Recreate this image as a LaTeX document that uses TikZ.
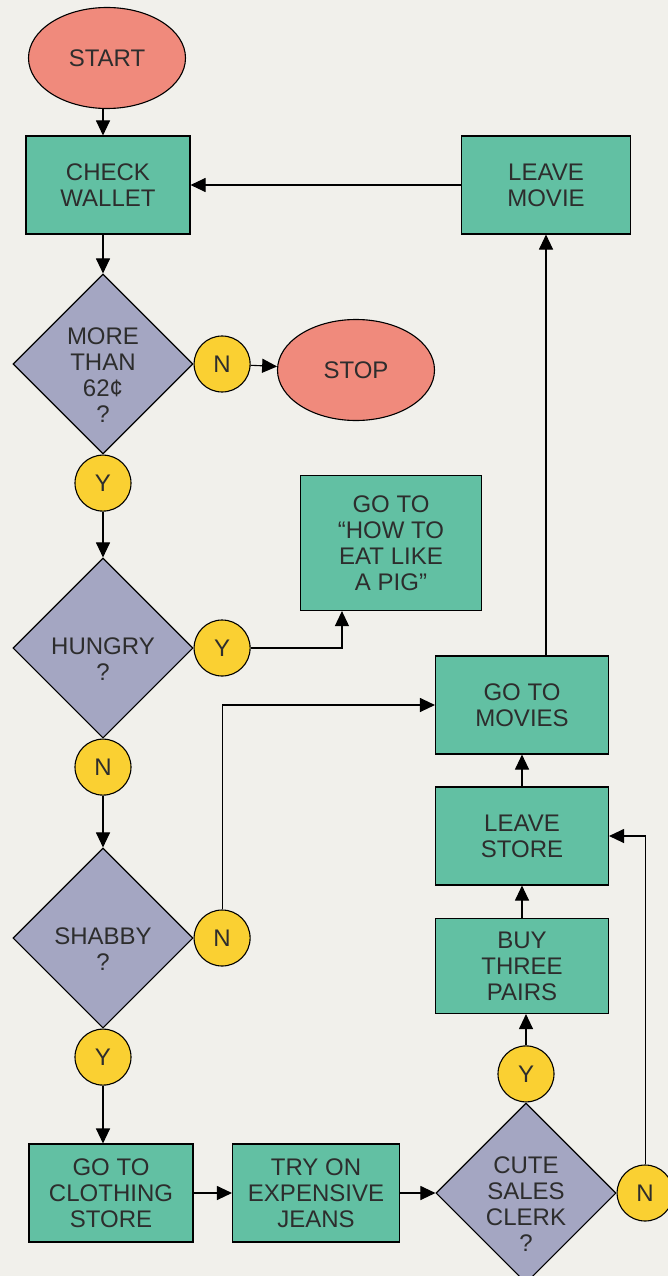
\documentclass[tikz,border=0pt]{standalone}
\usepackage{fontspec}
\setmainfont{Liberation Sans}
\usepackage{tikz}
\usepackage{xcolor}
\usetikzlibrary{calc,shapes.geometric,arrows.meta}

\definecolor{paper}{RGB}{241,240,235}
\definecolor{ink}{RGB}{45,45,45}
\definecolor{mint}{RGB}{98,192,163}
\definecolor{salmon}{RGB}{240,138,124}
\definecolor{lilac}{RGB}{164,166,194}
\definecolor{sun}{RGB}{250,208,50}

\begin{document}
\begin{tikzpicture}[x=1pt,y=-1pt]
        \tikzstyle{every node}=[font=\fontsize{24}{26}\selectfont, text=ink, align=center, line width=1.1pt]
        \tikzstyle{box}=[draw, fill=mint, minimum width=168, minimum height=98]
        \tikzstyle{term}=[draw, ellipse, fill=salmon, minimum width=157, minimum height=101]
        \tikzstyle{ask}=[draw, diamond, fill=lilac, minimum width=180, minimum height=180, inner sep=0pt]
        \tikzstyle{reply}=[draw, circle, fill=sun, minimum size=56, inner sep=0pt]
        \tikzstyle{flow}=[line width=1.1pt, -{Triangle[length=15pt,width=14pt]}]

            \useasboundingbox (0,0) rectangle (668,1276);
            \fill[paper] (0,0) rectangle (668,1276);

            % left column
            \node[term] (start) at (107,58) {START};
            \node[box, minimum width=164] (wallet) at (108,185) {CHECK\\WALLET};
            \node[ask, label={[yshift=-11pt]center:MORE\\THAN\\62¢\\?}] (more) at (103,364) {};
            \node[reply, anchor=west] (no1) at (more.east) {N};
            \node[term] (stop) at (356,370) {STOP};
            \node[reply, anchor=north] (yes1) at (more.south) {Y};

            \node[ask, label={[yshift=-11pt]center:HUNGRY\\?}] (hungry) at (103,648) {};
            \node[reply, anchor=west] (yes2) at (hungry.east) {Y};
            \node[reply, anchor=north] (no2) at (hungry.south) {N};
            \node[box, minimum width=181, minimum height=135] (pig) at (391,543) {GO TO\\“HOW TO\\EAT LIKE\\A PIG”};

            \node[ask, label={[yshift=-11pt]center:SHABBY\\?}] (shabby) at (103,938) {};
            \node[reply, anchor=west] (no3) at (shabby.east) {N};
            \node[reply, anchor=north] (yes3) at (shabby.south) {Y};

            % bottom row
            \node[box, minimum width=164] (clothing) at (111,1193) {GO TO\\CLOTHING\\STORE};
            \node[box, minimum width=167] (jeans) at (316,1193) {TRY ON\\EXPENSIVE\\JEANS};
            \node[ask, label={[yshift=-11pt]center:CUTE\\SALES\\CLERK\\?}] (cute) at (526,1193) {};
            \node[reply, anchor=south] (yes4) at (cute.north) {Y};
            \node[reply, anchor=west] (no4) at (cute.east) {N};

            % right column
            \node[box, minimum width=173, minimum height=95] (buy) at (522,966) {BUY\\THREE\\PAIRS};
            \node[box, minimum width=173] (store) at (522,836) {LEAVE\\STORE};
            \node[box, minimum width=173] (movies) at (522,705) {GO TO\\MOVIES};
            \node[box, minimum width=169] (leavemovie) at (546,185) {LEAVE\\MOVIE};

            \coordinate (pigfoot) at ($(pig.south west)+(42,0)$);

            \draw[flow] (start.south -| more) -- (wallet.north -| more);
            \draw[flow] (wallet.south -| more) -- (more);
            \draw[flow] (no1) -- (stop);
            \draw[flow] (yes1) -- (hungry);
            \draw[flow] (yes2) -| (pigfoot);
            \draw[flow] (no2) -- (shabby);
            \draw[flow] (no3) |- (movies);
            \draw[flow] (yes3) -- (yes3 |- clothing.north);
            \draw[flow] (clothing) -- (jeans);
            \draw[flow] (jeans) -- (cute);
            \draw[flow] (yes4) -- (yes4 |- buy.south);
            \draw[flow] (buy) -- (store);
            \draw[flow] (store) -- (movies);
            \draw[flow] (no4) |- (store);
            \draw[flow] (movies.north -| leavemovie) -- (leavemovie);
            \draw[flow] (leavemovie) -- (wallet);

        \end{tikzpicture}
\end{document}
